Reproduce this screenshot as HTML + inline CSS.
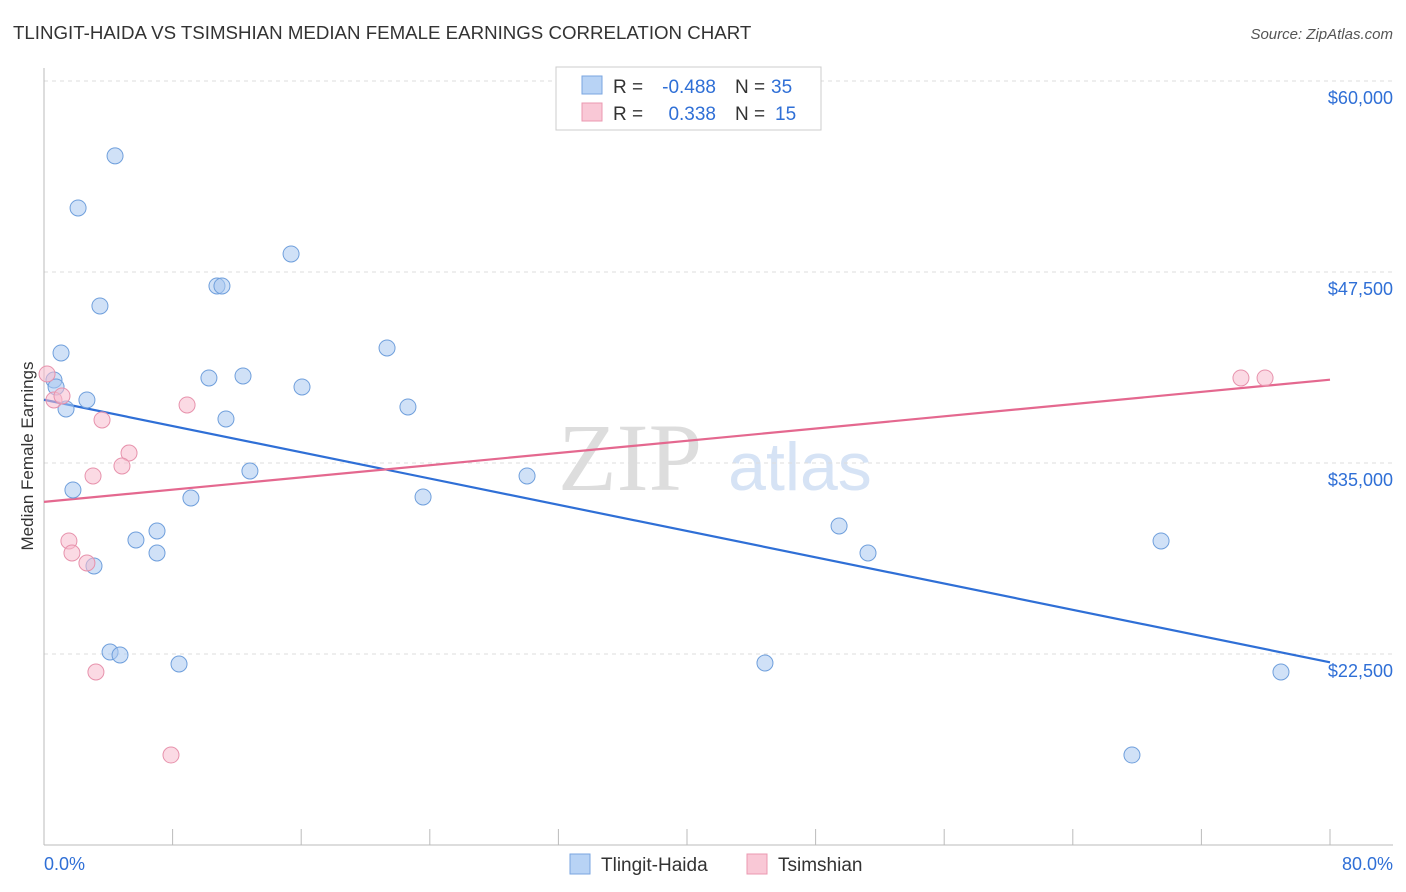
<!DOCTYPE html>
<html><head><meta charset="utf-8"><style>
body{margin:0;background:#fff;font-family:"Liberation Sans",sans-serif;}
svg{display:block}
</style></head><body>
<svg id="chart" width="1406" height="892">
<text x="13" y="39" font-size="18.7" fill="#333">TLINGIT-HAIDA VS TSIMSHIAN MEDIAN FEMALE EARNINGS CORRELATION CHART</text>
<text x="1393" y="39" font-size="15" fill="#555" text-anchor="end" font-style="italic">Source: ZipAtlas.com</text>
<text x="33" y="456" font-size="17" fill="#333" text-anchor="middle" transform="rotate(-90 33 456)">Median Female Earnings</text>
<text x="630" y="490" font-size="96" fill="#ddd" font-family="Liberation Serif,serif" text-anchor="middle">ZIP</text>
<text x="800" y="490" font-size="68" fill="#d6e3f5" text-anchor="middle">atlas</text>
<g id="grid"></g><g id="axes"></g><g id="trends"></g><g id="points"></g>
<g>
<rect x="556" y="67" width="265" height="63" fill="#fff" stroke="#ccc"/>
<rect x="582" y="76" width="20" height="18" fill="#b8d3f5" stroke="#7aa6e0"/>
<rect x="582" y="103" width="20" height="18" fill="#f9c8d6" stroke="#eb98b0"/>
<text x="613" y="93" font-size="19" fill="#333">R =</text>
<text x="716" y="93" font-size="19" fill="#2f6fd6" text-anchor="end">-0.488</text>
<text x="735" y="93" font-size="19" fill="#333">N =</text>
<text x="771" y="93" font-size="19" fill="#2f6fd6">35</text>
<text x="613" y="120" font-size="19" fill="#333">R =</text>
<text x="716" y="120" font-size="19" fill="#2f6fd6" text-anchor="end">0.338</text>
<text x="735" y="120" font-size="19" fill="#333">N =</text>
<text x="775" y="120" font-size="19" fill="#2f6fd6">15</text>
</g>
<g>
<rect x="570" y="854" width="20" height="20" fill="#b8d3f5" stroke="#7aa6e0"/>
<text x="601" y="871" font-size="19" fill="#333">Tlingit-Haida</text>
<rect x="747" y="854" width="20" height="20" fill="#f9c8d6" stroke="#eb98b0"/>
<text x="778" y="871" font-size="19" fill="#333">Tsimshian</text>
</g>
</svg>
<script>
const blueX=[4.42,2.12,15.37,3.48,10.76,11.07,1.06,21.34,0.62,0.75,10.26,12.38,16.05,2.67,1.37,22.64,11.32,12.81,30.05,1.80,9.14,23.58,7.03,5.72,7.03,3.11,49.46,51.26,69.49,4.11,4.73,8.40,44.85,76.95,67.68];
const blueY=[55100,51690,48680,45277,46586,46586,42200,42528,40433,39975,40564,40695,39975,39124,38535,38666,37881,34477,34150,33234,32710,32776,30550,29961,29110,28260,30878,29110,29896,22631,22435,21845,21911,21322,15889];
const pinkX=[0.19,0.62,1.12,8.90,3.61,5.29,4.85,3.05,1.55,1.74,2.67,3.23,7.90,74.46,75.96];
const pinkY=[40826,39124,39386,38797,37815,35655,34805,34150,29896,29110,28456,21322,15889,40564,40564];
const yTicks=[22500,35000,47500,60000];
const yTickLabels=["$22,500","$35,000","$47,500","$60,000"];
const xTicks=[0,8,16,24,32,40,48,56,64,72,80];
const NS="http://www.w3.org/2000/svg";
const X0=44,X1=1330,YA=654,YB=463;
function sx(v){return X0+(X1-X0)*v/80;}
function sy(v){return YA-(v-22500)*(YA-YB)/12500;}
function mk(tag,attrs,parent){const e=document.createElementNS(NS,tag);for(const k in attrs)e.setAttribute(k,attrs[k]);parent.appendChild(e);return e;}
const grid=document.getElementById('grid'),axes=document.getElementById('axes'),trends=document.getElementById('trends'),pts=document.getElementById('points');
yTicks.forEach((t,i)=>{
 const l=mk('line',{x1:X0,x2:1393,y1:sy(t),y2:sy(t),stroke:'#ddd','stroke-dasharray':'4,4'},grid);
 
 
 const tx=mk('text',{x:1393,y:sy(t)+23,'font-size':18,fill:'#2f6fd6','text-anchor':'end'},grid);
 tx.textContent=yTickLabels[i];
 
 
});
const ax=mk('line',{x1:X0,x2:X0,y1:68,y2:845,stroke:'#bbb'},axes);


const bx=mk('line',{x1:X0,x2:1393,y1:845,y2:845,stroke:'#bbb'},axes);


xTicks.forEach(t=>{
 const l=mk('line',{x1:sx(t),x2:sx(t),y1:829,y2:845,stroke:'#bbb'},axes);
 
 
});
const xl0=mk('text',{x:X0,y:870,'font-size':18,fill:'#2f6fd6'},axes);xl0.textContent='0.0%';


const xl1=mk('text',{x:1393,y:870,'font-size':18,fill:'#2f6fd6','text-anchor':'end'},axes);xl1.textContent='80.0%';


function reg(xs,ys){const n=xs.length;let mx=0,my=0;for(let i=0;i<n;i++){mx+=xs[i];my+=ys[i];}mx/=n;my/=n;let a=0,b=0;for(let i=0;i<n;i++){a+=(xs[i]-mx)*(ys[i]-my);b+=(xs[i]-mx)**2;}const s=a/b;return [my-s*mx,s];}
function trend(xs,ys,col,name){const [c,s]=reg(xs,ys);const l=mk('line',{x1:sx(0),y1:sy(c),x2:sx(80),y2:sy(c+s*80),stroke:col,'stroke-width':2.2},trends);
 
 }
trend(blueX,blueY,'#2f6fd6','trend-line-tlingit');
trend(pinkX,pinkY,'#e4688f','trend-line-tsimshian');
function dots(xs,ys,fill,stroke,name){xs.forEach((x,i)=>{const c=mk('circle',{cx:sx(x),cy:sy(ys[i]),r:8,fill:fill,'fill-opacity':0.55,stroke:stroke,'stroke-width':1},pts);
 
 });}
dots(blueX,blueY,'#a9c8f0','#6f9fdc','point-tlingit');
dots(pinkX,pinkY,'#f7bccd','#e792ac','point-tsimshian');
</script>
</body></html>
